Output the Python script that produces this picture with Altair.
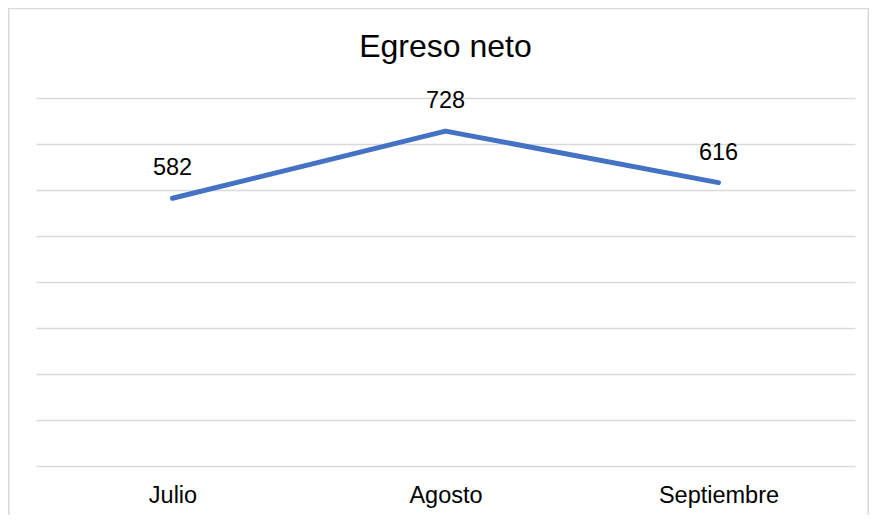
import altair as alt
import pandas as pd

months = ["Julio", "Agosto", "Septiembre"]
values = [582, 728, 616]
y_ticks = [0, 100, 200, 300, 400, 500, 600, 700, 800]
title_text = "Egreso neto"

df = pd.DataFrame({"mes": months, "valor": values})
FONT = "Liberation Sans"

base = alt.Chart(df).encode(
    x=alt.X("mes:N", sort=months,
            scale=alt.Scale(paddingInner=0, paddingOuter=0),
            axis=alt.Axis(title=None, ticks=False, domain=False, grid=False,
                          labelFont=FONT, labelFontSize=23.5, labelColor="#000000",
                          labelAngle=0, labelPadding=36, labelBaseline="alphabetic")),
    y=alt.Y("valor:Q", scale=alt.Scale(domain=[0, 800], nice=False, zero=True),
            axis=alt.Axis(title=None, values=y_ticks, labels=False, ticks=False,
                          domain=False, grid=True, gridColor="#d9d9d9",
                          gridWidth=1.5)),
)

line = base.mark_line(color="#4472C4", strokeWidth=5, strokeCap="round",
                      strokeJoin="round")
labels = base.mark_text(font=FONT, fontSize=23.5, color="#000000",
                        baseline="alphabetic", dy=-23).encode(text="valor:Q")

border = alt.Chart(pd.DataFrame({"a": [0]})).mark_rect(
    fill=None, stroke="#d9d9d9", strokeWidth=1.5, clip=False
).encode(x=alt.value(-27.25), x2=alt.value(832.25),
         y=alt.value(-89.5), y2=alt.value(500))

chart = alt.layer(border, line, labels).properties(
    width=819, height=368,
    title=alt.TitleParams(title_text, font=FONT, fontSize=32, fontWeight="normal",
                          color="#000000", anchor="middle", frame="group",
                          baseline="alphabetic", offset=-81.5),
    padding={"left": 28, "top": 90, "right": 22, "bottom": 49},
    autosize=alt.AutoSizeParams(type="none"),
).configure_view(stroke=None)

chart.save("out.html", embed_options={"renderer": "svg", "actions": False})
